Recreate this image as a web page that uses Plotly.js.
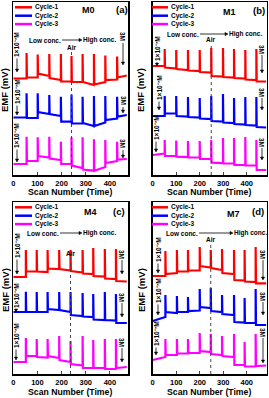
<!DOCTYPE html>
<html><head><meta charset="utf-8">
<script src="https://cdn.plot.ly/plotly-3.0.1.min.js"></script>
<style>html,body{margin:0;padding:0;background:#fff}#chart{width:269px;height:398px}</style>
</head><body><div id="chart"></div>
<script>
// ---- data (EMF, arbitrary mV offset) ----
const tickVals = [0, 100, 200, 300, 400];
const tickLabels = ['0', '100', '200', '300', '400'];
const seriesNames = ['Cycle-1', 'Cycle-2', 'Cycle-3'];
const panelNames = ['M0', 'M1', 'M4', 'M7'];
const panelTags = ['(a)', '(b)', '(c)', '(d)'];

// scan numbers where each new concentration is added (5th = Air)
const scansA = [55, 101, 149, 197, 241, 287, 334, 381, 430];
const scansB = [51, 100, 150, 200, 249, 299, 346, 394, 441];
const scansC = [52, 97, 142, 190, 237, 287, 331, 379, 425];
const scansD = [54, 103, 150, 200, 247, 295, 346, 391, 438];
const lastScanA = 470, lastScanB = 483, lastScanC = 470, lastScanD = 483;

// baseline levels: [start, end] of each of the 10 plateaus
const redA_base = [96.5,96.5, 97.5,97.5, 101.5,99, 97,95, 93.5,93.5, 93,93, 93,90, 90.5,93, 95,95.5, 97.5,99.5];
const redA_peak = [122,120.5,121,121,119,121,121,119.5,118.5];
const blueA_base = [57.5,57.5, 57,57, 63,61, 61,59, 53.3,53.3, 51.5,51.5, 52,49, 49,52.5, 55,56.5, 58.3,60];
const blueA_peak = [81.7,81.7,80,78.3,80.5,78.3,79,79,78.3];
const magA_base = [11,11, 14,14, 19,17.5, 16.5,15, 11,11, 9.5,7, 5.5,4.3, 4.3,8, 12,14, 15.5,16];
const magA_peak = [38.3,37.7,38.3,33.3,37.7,37.7,35.7,35,33.3];

const redB_base = [109,109, 107.5,106.5, 106,105, 104.5,104, 103,102.5, 99,98.5, 98,97.5, 97,96.5, 95.5,95, 93.5,93.5];
const redB_peak = [126,125,125,125,127,127,126,125,126];
const blueB_base = [59,59, 61.5,61.5, 59,58.5, 58,57.5, 56.5,56, 54,53.5, 52.5,52, 51,50.5, 50,49.5, 48,47.5];
const blueB_peak = [79,79,78,77,79,81,77,78,78];
const magB_base = [20,21.5, 19,19, 18.3,18, 17.5,17.5, 16,16, 12.3,12, 11.5,11.5, 10,10, 9.5,9.5, 5,5];
const magB_peak = [35,34.5,34,34,35,37,37,38,35];

const redC_base = [97,97, 102.5,102.5, 102.5,102, 105.5,105, 105,103.5, 103,101.5, 100.5,100, 98,97.5, 95.5,95, 93,92.5];
const redC_peak = [124,124,124,124,124,124,126,125,125];
const blueC_base = [62,62, 62,62, 62,62, 65,64, 64,62, 59,58, 57.5,57, 54.5,54, 54,53.5, 51,51];
const blueC_peak = [82.3,82,82,82,82,81,80,82,80];
const magC_base = [12,12, 18,18, 17,16.5, 18,16, 14,12, 10,8.5, 6,6, 6,6, 5,5, 6,7];
const magC_peak = [36,35,35,38,33,38,34,35,35];

const redD_base = [98,98, 100,101, 102.5,102.5, 103.5,103.5, 108,106.5, 106,104, 101,100, 94,93.5, 92.5,92, 90.7,90.7];
const redD_peak = [123,124,124,127,124,125,124,124,127];
const blueD_base = [53,57, 62,61, 62,62, 63,63.5, 67,66, 63,62, 60,59, 52,51.5, 51,51, 49,49];
const blueD_peak = [79,78,77,85,86,79,79,76,85];
const magD_base = [14,17, 19,19, 20.5,20.5, 21,21, 23,22, 20,19, 18,17, 9,9, 7.5,7.5, 8,8.5];
const magD_peak = [35,35,35,41,40,38,40,32,40];

// ---- helpers ----
const W = 269, H = 398;
const PX = v => v / W, PY = v => 1 - v / H;
const colors = ['#ff0000', '#0000ff', '#ff00ff'];
const FONT = '"Liberation Sans", Arial, sans-serif';

function build(scans, base, peaks, last) {
  const x = [0], y = [base[0]];
  for (let i = 0; i < scans.length; i++) {
    x.push(scans[i]); y.push(base[2 * i + 1]);
    x.push(scans[i]); y.push(peaks[i]);
    x.push(scans[i] + 1.5); y.push(base[2 * i + 2]);
  }
  x.push(last); y.push(base[base.length - 1]);
  return {x, y};
}

const panels = [
  {ax: '', scans: scansA, last: lastScanA, sets: [[redA_base, redA_peak], [blueA_base, blueA_peak], [magA_base, magA_peak]]},
  {ax: '2', scans: scansB, last: lastScanB, sets: [[redB_base, redB_peak], [blueB_base, blueB_peak], [magB_base, magB_peak]]},
  {ax: '3', scans: scansC, last: lastScanC, sets: [[redC_base, redC_peak], [blueC_base, blueC_peak], [magC_base, magC_peak]]},
  {ax: '4', scans: scansD, last: lastScanD, sets: [[redD_base, redD_peak], [blueD_base, blueD_peak], [magD_base, magD_peak]]}
];

const traces = [];
panels.forEach(p => {
  p.sets.forEach((s, k) => {
    const d = build(p.scans, s[0], s[1], p.last);
    traces.push({x: d.x, y: d.y, type: 'scatter', mode: 'lines', name: seriesNames[k],
      xaxis: 'x' + p.ax, yaxis: 'y' + p.ax, showlegend: false,
      line: {color: colors[k], width: 2.2}});
  });
});

// ---- geometry (pixels) ----
const geo = [
  {l: 13.3, r: 128, t: 2, b: 175, xr: 475},
  {l: 152.7, r: 266.7, t: 2, b: 175, xr: 485},
  {l: 13.3, r: 128, t: 202, b: 374, xr: 475},
  {l: 152.7, r: 266.7, t: 202, b: 374, xr: 485}
];

const layout = {
  width: W, height: H, margin: {l: 0, r: 0, t: 0, b: 0},
  paper_bgcolor: '#fff', plot_bgcolor: '#fff', showlegend: false,
  font: {family: FONT, color: '#000'},
  shapes: [], annotations: []
};

geo.forEach((g, i) => {
  const id = i === 0 ? '' : String(i + 1);
  layout['xaxis' + id] = {
    domain: [PX(g.l), PX(g.r)], range: [0, g.xr], anchor: 'y' + id,
    tickvals: tickVals, ticktext: tickLabels, ticks: 'inside', ticklen: 3, tickwidth: 1,
    showline: true, mirror: true, linecolor: '#000', linewidth: 1.5,
    showgrid: false, zeroline: false, fixedrange: true,
    tickfont: {size: 7.5, family: FONT, weight: 700, color: '#000'}
  };
  layout['yaxis' + id] = {
    domain: [PY(g.b), PY(g.t)], range: [0, g.b - g.t], anchor: 'x' + id,
    showticklabels: false, ticks: '', showline: true, mirror: true, linecolor: '#000', linewidth: 1.5,
    showgrid: false, zeroline: false, fixedrange: true
  };
  const p = panels[i];
  // Air dotted line
  const airTop = [125, 132, 117, 130][i];
  layout.shapes.push({type: 'line', xref: 'x' + id, yref: 'y' + id, x0: p.scans[4], x1: p.scans[4], y0: 0, y1: airTop,
    line: {color: '#444', width: 1, dash: 'dot'}, layer: 'above'});
  // legend samples
  const lx0 = [15, 152, 15, 152][i], lx1 = [32, 168, 32, 168][i], ly0 = g.t + 5.3;
  for (let k = 0; k < 3; k++) {
    const yy = ly0 + k * 8.4;
    layout.shapes.push({type: 'line', xref: 'paper', yref: 'paper', x0: PX(lx0), x1: PX(lx1), y0: PY(yy), y1: PY(yy),
      line: {color: colors[k], width: 2.5}});
    layout.annotations.push({xref: 'paper', yref: 'paper', x: PX(lx1 + 1), y: PY(yy), xanchor: 'left', yanchor: 'middle',
      text: seriesNames[k], showarrow: false, font: {size: 6.5, family: FONT, weight: 700}});
  }
});

function ann(px, py, text, size, extra) {
  layout.annotations.push(Object.assign({xref: 'paper', yref: 'paper', x: PX(px), y: PY(py), text: text,
    showarrow: false, xanchor: 'center', yanchor: 'middle', font: {size: size, family: FONT, weight: 700}}, extra || {}));
}
// arrow drawn with shapes: tail (x0,y0) -> head (x1,y1), pixels
function arrow(x0, y0, x1, y1) {
  const dx = x1 - x0, dy = y1 - y0, L = Math.hypot(dx, dy), ux = dx / L, uy = dy / L;
  const hl = 3, hw = 1.6;
  const bx = x1 - ux * hl, by = y1 - uy * hl;
  layout.shapes.push({type: 'line', xref: 'paper', yref: 'paper', x0: PX(x0), y0: PY(y0), x1: PX(bx), y1: PY(by),
    line: {color: '#000', width: 0.8}});
  const p1 = [bx - uy * hw, by + ux * hw], p2 = [bx + uy * hw, by - ux * hw];
  layout.shapes.push({type: 'path', xref: 'paper', yref: 'paper',
    path: `M ${PX(x1)},${PY(y1)} L ${PX(p1[0])},${PY(p1[1])} L ${PX(p2[0])},${PY(p2[1])} Z`,
    fillcolor: '#000', line: {color: '#000', width: 0.5}});
}
function arrowLabel(px, textPy, headPy, text, angle, half) {
  ann(px, textPy, text, 6.5, {textangle: angle});
  arrow(px, textPy + half + 1, px, headPy);
}

// panel names / tags
[[88, 10], [229.5, 12], [90, 212], [233, 214]].forEach((q, i) => ann(q[0], q[1], panelNames[i], 9));
[[122, 9], [259, 10], [119, 211], [258, 211]].forEach((q, i) => ann(q[0], q[1], panelTags[i], 9.5));
// Low conc. -> High conc.
[[45, 40, 82, 99], [183, 34, 228, 245], [43, 233, 82, 99], [182, 233, 233, 250]].forEach(q => {
  ann(q[0], q[1], 'Low conc.', 6.5);
  arrow(q[0] + 17, q[1], q[2], q[1]);
  ann(q[3], q[1], 'High conc.', 6.5);
});
// Air
[[72, 47], [211, 39], [71, 253], [211, 240]].forEach(q => ann(q[0], q[1], 'Air', 6.5));
// 1e-7 M labels (left) and 3M labels (right)
const low = '1×10⁻⁷M';
[[17, 45, 72], [17, 92, 115], [17, 136, 162],
 [157, 49, 66], [159, 88, 110], [156, 128, 152],
 [17, 246, 274], [16, 296, 312], [16, 336, 360],
 [158, 250, 273], [158, 291, 315], [156, 334, 355]].forEach(q => arrowLabel(q[0], q[1], q[2], low, -90, 12.5));
[[123, 37, 65], [123, 101, 113], [123, 144, 158],
 [262, 49, 73], [262, 92, 110], [262, 142, 160],
 [122, 254, 274], [122, 297, 317], [122, 342, 362],
 [263, 254, 280], [263, 296, 315], [263, 332, 363]].forEach(q => arrowLabel(q[0], q[1], q[2], '3M', 90, 5));
// axis titles
[[70, 192], [209, 192], [70, 392], [209, 392]].forEach(q => ann(q[0], q[1], 'Scan Number (Time)', 8.7));
[[5, 90], [141, 90], [5, 290], [141, 290]].forEach(q => ann(q[0], q[1], 'EMF (mV)', 9.5, {textangle: -90}));

Plotly.newPlot('chart', traces, layout, {staticPlot: true, displayModeBar: false});
</script></body></html>
